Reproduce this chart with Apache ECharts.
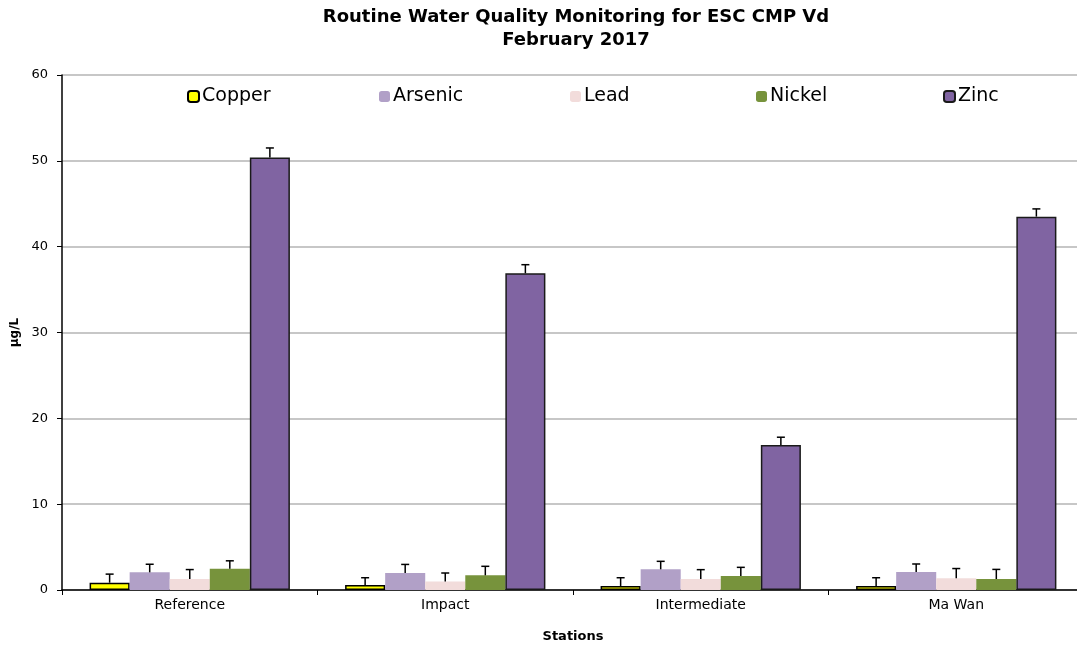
<!DOCTYPE html>
<html>
<head>
<meta charset="utf-8">
<script src="https://cdn.jsdelivr.net/npm/echarts@6/dist/echarts.min.js"></script>
<style>
	html, body { margin: 0; padding: 0; background: #fff; }
	#main_chart { width: 1077px; height: 649px; }
</style>
</head>
<body>
<div id="main_chart"></div>
<script>
var stations = ["Reference", "Impact", "Intermediate", "Ma Wan"];
var metals = ["Copper", "Arsenic", "Lead", "Nickel", "Zinc"];

var copperVal = [0.85, 0.58, 0.47, 0.47];
var arsenicVal = [2.06, 1.98, 2.41, 2.1];
var leadVal = [1.28, 1.0, 1.28, 1.36];
var nickelVal = [2.48, 1.71, 1.63, 1.28];
var zincVal = [50.4, 36.9, 16.9, 43.5];

// upper error amounts
var copperErr = [1.0, 0.85, 0.96, 0.96];
var arsenicErr = [0.94, 1.0, 0.93, 0.93];
var leadErr = [1.1, 0.98, 1.09, 1.14];
var nickelErr = [0.92, 1.05, 1.01, 1.12];
var zincErr = [1.1, 1.0, 0.9, 0.9];

var yTicks = [0, 10, 20, 30, 40, 50, 60];

var colors = ["#ffff00", "#b1a0c7", "#f2dcdb", "#77933c", "#8064a2"];
var borders = ["#000", null, null, null, "#1a1a1a"];
var allVals = [copperVal, arsenicVal, leadVal, nickelVal, zincVal];
var allErr = [copperErr, arsenicErr, leadErr, nickelErr, zincErr];

var gapRatio = 0.216;
var fontName = "DejaVu Sans, sans-serif";

function makeChart() {
	var chart_do = document.getElementById("main_chart");
	var myChart = echarts.init(chart_do);

	var series = [];
	var legends = [];
	var legendLeft = [182, 374, 565, 751, 938];

	for (var i = 0; i < metals.length; i++) {
		series.push({
			name: metals[i],
			type: "bar",
			barGap: "0%",
			barCategoryGap: (gapRatio * 100) + "%",
			itemStyle: {
				color: colors[i],
				borderColor: borders[i] || colors[i],
				borderWidth: borders[i] ? 1.5 : 0
			},
			data: allVals[i]
		});
		legends.push({
			data: [metals[i]],
			left: legendLeft[i],
			top: 82,
			itemWidth: 11,
			itemHeight: 11,
			itemGap: 4,
			textStyle: { fontFamily: fontName, fontSize: 19, color: "#000", padding: [0, 0, 0, -2] }
		});
	}

	// error bars (plus only)
	for (var j = 0; j < metals.length; j++) {
		var errData = [];
		for (var k = 0; k < stations.length; k++) {
			errData.push([k, allVals[j][k], allErr[j][k]]);
		}
		series.push({
			type: "custom",
			name: metals[j] + " err",
			z: 5,
			renderItem: (function (idx) {
				return function (params, api) {
					var cat = api.value(0);
					var v = api.value(1);
					var e = api.value(2);
					var base = api.coord([cat, v]);
					var top = api.coord([cat, v + e]);
					var bandW = api.size([1, 0])[0];
					var barW = bandW * (1 - gapRatio) / metals.length;
					var cx = base[0] + (idx - 2) * barW;
					var st = { stroke: "#000", lineWidth: 1.5 };
					return {
						type: "group",
						children: [
							{ type: "line", shape: { x1: cx, y1: base[1], x2: cx, y2: top[1] }, style: st },
							{ type: "line", shape: { x1: cx - 4, y1: top[1], x2: cx + 4, y2: top[1] }, style: st }
						]
					};
				};
			})(j),
			data: errData
		});
	}

	var option = {
		animation: false,
		title: {
			text: "Routine Water Quality Monitoring for ESC CMP Vd\nFebruary 2017",
			left: 571,
			textAlign: "center",
			top: 1,
			textStyle: { fontFamily: fontName, fontSize: 18, fontWeight: "bold", lineHeight: 23, color: "#000" }
		},
		legend: legends,
		grid: { left: 62, right: -7, top: 75, bottom: 59, outerBoundsMode: "none" },
		xAxis: {
			type: "category",
			data: stations,
			name: "Stations",
			nameLocation: "middle",
			nameGap: 40,
			nameTextStyle: { fontFamily: fontName, fontSize: 13, fontWeight: "bold", color: "#000" },
			axisLine: { lineStyle: { color: "#000", width: 1.5 } },
			axisTick: { show: true, length: 5, lineStyle: { color: "#000" } },
			axisLabel: { fontFamily: fontName, fontSize: 14, color: "#000", margin: 8 }
		},
		yAxis: {
			type: "value",
			min: 0,
			max: 60,
			interval: 10,
			name: "µg/L",
			nameLocation: "middle",
			nameGap: 34,
			nameTextStyle: { fontFamily: fontName, fontSize: 12, fontWeight: "bold", color: "#000" },
			axisLine: { show: true, lineStyle: { color: "#000", width: 1.5 } },
			axisTick: { show: true, length: 5, lineStyle: { color: "#000" } },
			axisLabel: {
				fontFamily: fontName, fontSize: 13, color: "#000", margin: 14,
				formatter: function (v) { return yTicks.indexOf(v) >= 0 ? String(v) : ""; }
			},
			splitLine: { show: true, lineStyle: { color: "#b4b4b4", width: 1.5 } }
		},
		series: series
	};

	myChart.setOption(option);
}

makeChart();
</script>
</body>
</html>
